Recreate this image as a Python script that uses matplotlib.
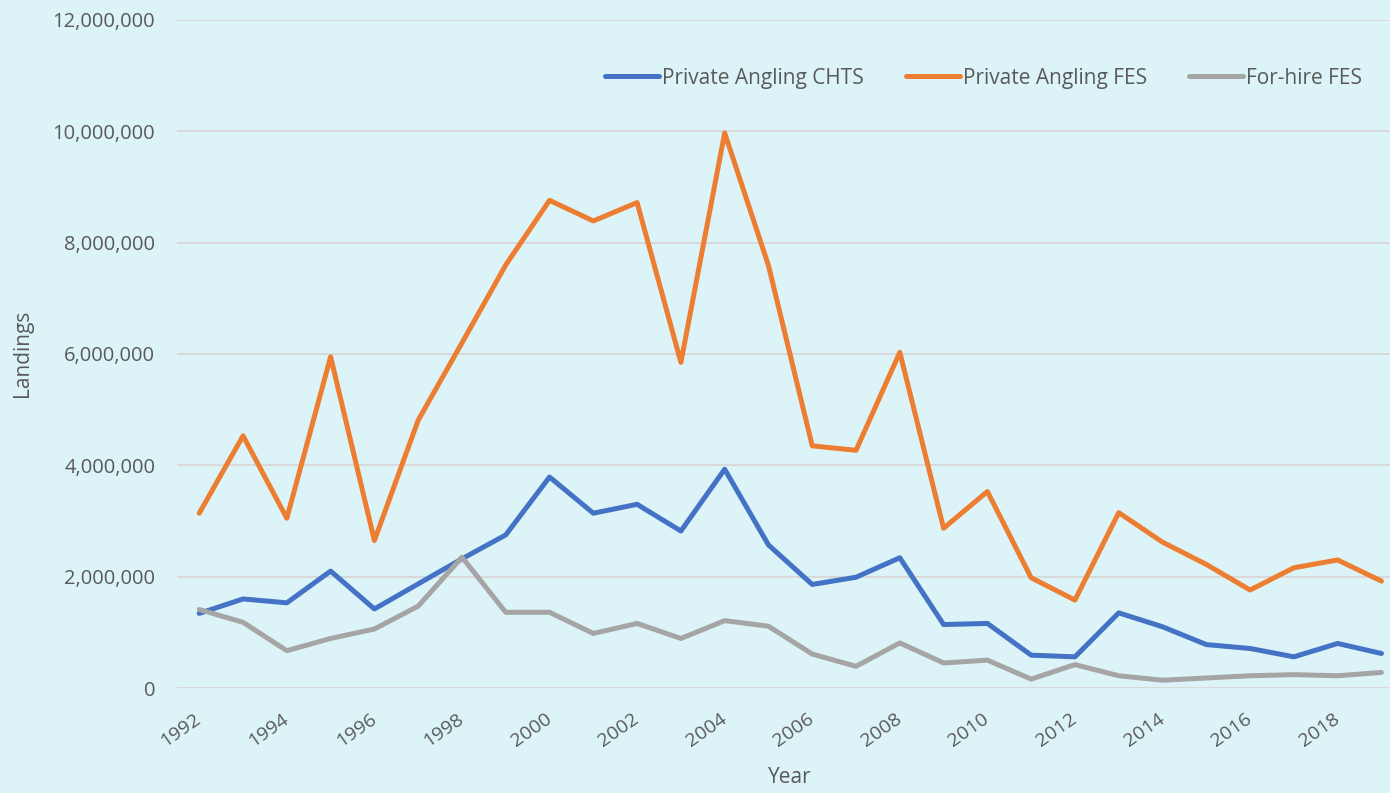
import matplotlib.pyplot as plt
from matplotlib.ticker import FuncFormatter

years = list(range(1992, 2020))
private_chts = [1.34, 1.60, 1.53, 2.10, 1.42, 1.87, 2.32, 2.75, 3.79, 3.14,
                3.30, 2.82, 3.93, 2.57, 1.86, 1.99, 2.34, 1.14, 1.16, 0.59,
                0.56, 1.35, 1.10, 0.78, 0.71, 0.56, 0.80, 0.62]
private_fes = [3.14, 4.53, 3.05, 5.95, 2.65, 4.81, 6.20, 7.60, 8.76, 8.39,
               8.72, 5.85, 9.97, 7.59, 4.35, 4.27, 6.03, 2.87, 3.53, 1.98,
               1.58, 3.15, 2.62, 2.22, 1.76, 2.16, 2.30, 1.92]
forhire_fes = [1.41, 1.18, 0.67, 0.89, 1.06, 1.47, 2.35, 1.36, 1.36, 0.98,
               1.16, 0.89, 1.21, 1.11, 0.61, 0.39, 0.81, 0.45, 0.50, 0.16,
               0.42, 0.22, 0.14, 0.18, 0.22, 0.24, 0.22, 0.28]
series = [("Private Angling CHTS", private_chts, "#4472C4"),
          ("Private Angling FES", private_fes, "#ED7D31"),
          ("For-hire FES", forhire_fes, "#A5A5A5")]

bg = "#DCF4F8"
txt = "#595959"
plt.rcParams['font.family'] = ['Open Sans', 'DejaVu Sans']

fig = plt.figure(figsize=(13.9, 7.93), dpi=100, facecolor=bg)
ax = fig.add_axes([0.1276, 0.1324, 0.882, 0.8424], facecolor=bg)

for name, vals, col in series:
    ax.plot(years, [v * 1e6 for v in vals], color=col, lw=3.6, label=name,
            solid_joinstyle='round', solid_capstyle='round')

ax.set_xlim(1991.5, 2019.5)
ax.set_ylim(0, 12e6)
ax.set_yticks([i * 2e6 for i in range(7)])
ax.yaxis.set_major_formatter(FuncFormatter(lambda v, p: f"{int(v):,}"))
ax.set_xticks(years[::2])
ax.set_xticklabels([str(y) for y in years[::2]], rotation=35, ha='right',
                   rotation_mode='anchor', va='center')
ax.grid(axis='y', color="#D9D9D9", lw=1.4)
ax.set_axisbelow(True)
for s in ax.spines.values():
    s.set_visible(False)
ax.tick_params(axis='both', length=0, colors=txt)
ax.tick_params(axis='y', pad=16, labelsize=14.5)
ax.tick_params(axis='x', pad=21, labelsize=14)

ax.set_ylabel("Landings", color=txt, fontsize=15)
ax.yaxis.set_label_coords(-0.118, 0.5015)
ax.set_xlabel("Year", color=txt, fontsize=15)
ax.xaxis.set_label_coords(0.4996, -0.118)

ax.legend(loc='center right', bbox_to_anchor=(0.9799, 0.9016), bbox_transform=fig.transFigure,
          ncol=3, frameon=False, fontsize=15, labelcolor=txt, handlelength=2.6,
          handletextpad=0.15, columnspacing=2.0, borderpad=0, borderaxespad=0)

fig.savefig("out.png", dpi=100, facecolor=bg)
